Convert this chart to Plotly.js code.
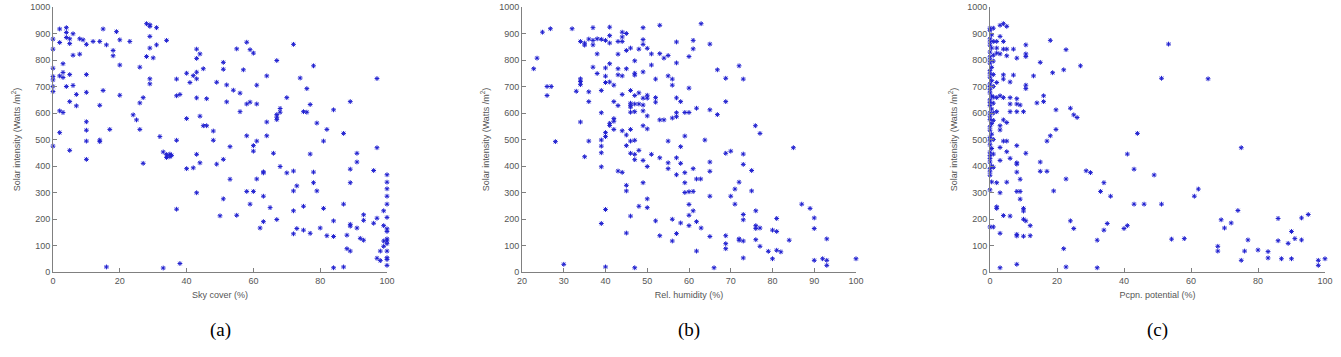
<!DOCTYPE html>
<html>
<head>
<meta charset="utf-8">
<script src="https://cdn.plot.ly/plotly-3.0.1.min.js"></script>
<style>html,body{margin:0;padding:0;background:#fff;}#chart{width:1341px;height:357px;}</style>
</head>
<body>
<div id="chart"></div>
<script>
// ---- Panel (a): Sky cover (%) vs solar intensity ----
const skyCover = [0,0,0,0,0,0,0,0,2,2, 2,2,2,3,3,3,3,4,4,4, 4,5,5,5,5,5,6,6,6,7,
  7,8,8,9,10,10,10,10,10,10, 10,12,14,14,14,14,15,15,16,16, 17,18,18,19,20,20,20,23,26,24,
  25,26,26,27,27,28,28,29,29,29, 29,29,29,30,31,31,32,33,33,34, 34,34,35,35,35.5,37,37,37,37,38,
  38,40,40,40,41,42,42,43,43,43, 43,43,43,43,44,44,44,45,45,46, 46,48,48,49,49,50,51,51,51,51,
  52,52,53, 53,54,55,55,56,56,57, 58,58,58,58,59,59,59,60,60,60, 60,61,61,61,61,63,63,63,63,62,
  64,64,64,65,66,67,67,67,67,67, 68,68,68,70,70,72,72,72,72,72, 73,73,74,75,75,75,76,76,77,77,
  77,78,78,78,79,79,80,81,81,82, 82,84,84,84,84,87,87,87,88,88, 89,89,89,89,89,89,91,91,91,92,
  93,93,93,96,96,97,97,97,97,98, 98,99,99,99,99,
  100,100,100,100,100,100,100,100,100,100,100,100,100,100,100];
const skySolar = [879,841,769,738,725,700,681,475,917,866, 740,608,526,786,753,734,602,922,904,885, 700,880,862,745,643,459,899,818,704,670,
  627,822,880,876,859,745,678,567,535,494, 425,870,870,629,498,492,917,685,857,19, 538,836,816,907,876,781,667,870,773,593,
  574,638,538,658,410,937,813,933,927,889, 845,729,710,808,922,857,511,453,15,443, 432,874,445,435,440,728,665,497,237,670,
  32,750,579,390,715,741,393,841,806,754, 729,657,444,299,823,588,412,552,767,552, 654,532,497,716,407,212,791,765,425,276,
  706,642,473, 350,686,842,214,675,605,763, 867,634,514,304,839,641,256,826,477,456, 304,705,634,494,351,378,374,286,190,166,
  740,566,514,243,448,798,594,584,575,198, 617,603,398,658,374,859,381,306,231,144, 325,164,732,605,248,158,692,603,632,445,
  146,778,377,337,562,306,166,494,240,538, 137,612,193,134,16,523,256,19,139,88, 643,388,337,180,173,79,448,415,166,127,
  120,216,195,184,383,730,469,203,52,79, 43,175,231,117,97,
  367,339,314,286,256,206,163,153,125,117,107,79,54,47,25];

// ---- Panel (b): Rel. humidity (%) vs solar intensity ----
const humidity = [24.9,26.8,32,37,41,49,53,44,45,34, 35,35,36,37,37,38,39,40,41,41, 43,44,44,49,49,50,45,46,48,51,
  53,54,55,57,60,57,51,47,43,38, 41,23.6,22.8,37,38,40,40,41,40,42, 43,43,44,45,47,47,49,52,55,56,
  56,60,34,34,34,26,27,26,33,36, 36,39,42,43,44,46,46,46,46,47, 47,48,48,49,50,50,49,52,52,49,
  46,47,50,57,58,57,57,56,53,54, 59,60,39,34,41,41,42,42,42,44, 45,46,49,50,40,40,39,39,39,28,
  36,35,39,45,46,47,46,47,48,47, 49,50,51,53,55,55,55,57,58,59, 58,57,59,59,60,59,43,44,45,45,
  49,50,50,48,40,39,46,52,56,58, 60,60,60,45,53,57,56,30,40,47, 62.9,61,61,65,66.8,72,68.8,73,61.8,65,
  66.8,68.8,75.9,77,85,63.8,68.8,70,73,73, 65,65,61,61.8,62.8,61,70,65,71,72, 75,75,61,71,73,73,76,61.8,62.9,65,
  68.8,68.8,68.8,72,72,73,76,76,77,76, 77,81,80,81,79,81,82,80,73,61.8, 66,84,87,89,90,90,93,90,92,93,93,100];
const humSolar = [905,918,918,922,924,922,931,905,900,870, 864,856,879,874,857,880,878,874,892,864, 870,887,870,877,859,844,836,845,841,823,
  824,807,817,868,813,789,781,797,822,823, 786,807,767,773,749,770,739,717,715,705, 767,744,740,767,750,743,755,728,740,728,
  705,694,729,719,707,700,700,666,682,680, 643,685,643,628,670,685,637,629,622,666, 634,634,676,656,656,667,630,658,641,608,
  603,605,589,657,643,601,586,581,574,574, 602,602,601,566,561,553,579,569,538,533, 517,538,552,540,526,511,498,475,450,492,
  494,435,397,477,494,497,448,444,459,424, 421,398,444,431,494,412,390,431,473,513, 410,367,375,337,303,300,381,376,327,306,
  337,276,243,248,236,183,211,193,199,185, 214,175,255,147,137,145,117,29,19,16, 937,874,842,860,763,778,731,728,618,612,
  594,643,552,523,469,498,448,456,445,406, 415,380,390,351,351,304,286,286,313,339, 383,306,231,256,217,197,231,190,166,134,
  137,107,88,125,120,117,175,164,166,122, 97,202,158,153,78,82,76,50,53,79, 16,120,256,240,204,164,125,44,50,44,25,50];

// ---- Panel (c): Pcpn. potential (%) vs solar intensity ----
const pcpn = [0,1,0,0.5,0,1,0,0,0.5,0, 1,0,0,1,0,0.5,0,0,1,0, 0.5,0,0,1,0,0,0.5,0,1,0,
  0,0.5,0,1,0,0,1,0.5,0,0, 0.5,0,1,0,0,0.5,0,0,1,0, 0,0.5,0,1,0,0,0.5,0,0,1,
  3,4,5,3,2,4,2,3,2,4, 5,5,7,8,10.7,10.7,10.7,15,18,22.7, 18.7,22,27,4,4,7,13,2,6,10.7,
  10.7,4,6,8,8,6,9,16,16,14, 2,3,1,2,6,8,10,19.7,24,25, 26,19.7,18,17,4,5,3,3,4,5,
  3,5,8,6,3,8,8,10.7,8,9, 2,5,3,8,9,9,10,10,2,2, 4,6,10,10.7,12,3,8,8,10,12,
  19,15,15,17,3,8,22,22.7,22.7,24, 25,28.7,30,32,32,33,34,34,35,36, 40,41,41,44,43,43,46,49,
  53.3,51.2,65.1,75,62.2,61,51.2,54.2,58,74, 69,72,70,68,68,77,76,75,80,83, 83,86,86,87,89,90,91,93,93,95, 90,98,98,100];
const pcpnSolar = [920,920,912,895,880,870,868,856,845,830, 818,812,800,796,788,772,760,748,745,735, 722,710,700,700,688,676,664,650,660,640,
  628,615,600,600,588,575,572,560,548,535, 520,508,500,495,480,466,452,440,445,428, 415,400,390,395,378,365,340,310,170,170,
  931,937,927,889,870,870,826,823,845,841, 841,816,841,807,857,823,813,791,874,839, 752,763,778,744,728,743,740,715,717,705,
  692,658,658,654,634,634,630,665,643,638, 658,665,637,605,605,605,605,612,618,593, 583,538,514,494,574,564,552,536,494,494,
  470,454,477,429,421,412,407,448,377,350, 337,339,299,304,304,275,240,230,246,240, 213,211,199,193,175,146,142,136,135,137,
  306,415,380,380,16,29,88,19,351,193, 164,382,375,120,16,304,337,158,183,286, 164,175,445,523,388,256,256,366,
  860,731,729,469,313,286,256,124,126,232, 197,185,166,97,79,121,79,44,83,77, 53,202,118,50,108,153,126,121,204,217, 50,44,25,50];

const xTitles = ['Sky cover (%)', 'Rel. humidity (%)', 'Pcpn. potential (%)'];
const panelLabels = ['(a)', '(b)', '(c)'];
const yTitle = 'Solar intensity (Watts /m<sup>2</sup>)';

const panels = [
  {x: skyCover, y: skySolar, xa: 'x', ya: 'y'},
  {x: humidity, y: humSolar, xa: 'x2', ya: 'y2'},
  {x: pcpn, y: pcpnSolar, xa: 'x3', ya: 'y3'}
];

const traces = panels.map(p => ({
  type: 'scatter', mode: 'markers', x: p.x, y: p.y, xaxis: p.xa, yaxis: p.ya,
  cliponaxis: false, hoverinfo: 'skip',
  marker: {symbol: 'asterisk-open', size: 4, color: '#2020d0', line: {color: '#2020d0', width: 1}}
}));

const W = 1341;
const domains = [[53 / W, 387 / W], [522 / W, 856 / W], [990 / W, 1325 / W]];
const xRanges = [[0, 100], [20, 100], [0, 100]];
const xTicks = [[0, 20, 40, 60, 80, 100], [20, 30, 40, 50, 60, 70, 80, 90, 100], [0, 20, 40, 60, 80, 100]];

const axisCommon = {
  showline: true, linecolor: '#808080', linewidth: 1, ticks: 'inside', ticklen: 4, tickcolor: '#808080',
  showgrid: false, zeroline: false, mirror: false, fixedrange: true,
  tickfont: {family: 'Liberation Sans, Arial, sans-serif', size: 9, color: '#555'}
};

const layout = {
  width: 1341, height: 357, margin: {l: 0, r: 0, t: 7, b: 85},
  paper_bgcolor: '#fff', plot_bgcolor: '#fff', showlegend: false,
  font: {family: 'Liberation Sans, Arial, sans-serif', size: 9, color: '#555'},
  annotations: []
};

for (let i = 0; i < 3; i++) {
  const sfx = i === 0 ? '' : String(i + 1);
  layout['xaxis' + sfx] = Object.assign({}, axisCommon, {
    domain: domains[i], range: xRanges[i], tickvals: xTicks[i], anchor: 'y' + sfx,
    title: {text: xTitles[i], standoff: 6, font: {size: 9, color: '#555'}}
  });
  layout['yaxis' + sfx] = Object.assign({}, axisCommon, {
    domain: [0, 1], range: [0, 1000], dtick: 100, anchor: 'x' + sfx,
    title: {text: yTitle, standoff: 8, font: {size: 9, color: '#555'}}
  });
  layout.annotations.push({
    text: panelLabels[i], xref: 'paper', yref: 'paper',
    x: (domains[i][0] + domains[i][1]) / 2, y: -0.219, xanchor: 'center', yanchor: 'middle',
    showarrow: false, font: {family: 'Liberation Serif, Times New Roman, serif', size: 19, color: '#000'}
  });
}

Plotly.newPlot('chart', traces, layout, {displayModeBar: false, staticPlot: true});
</script>
</body>
</html>
